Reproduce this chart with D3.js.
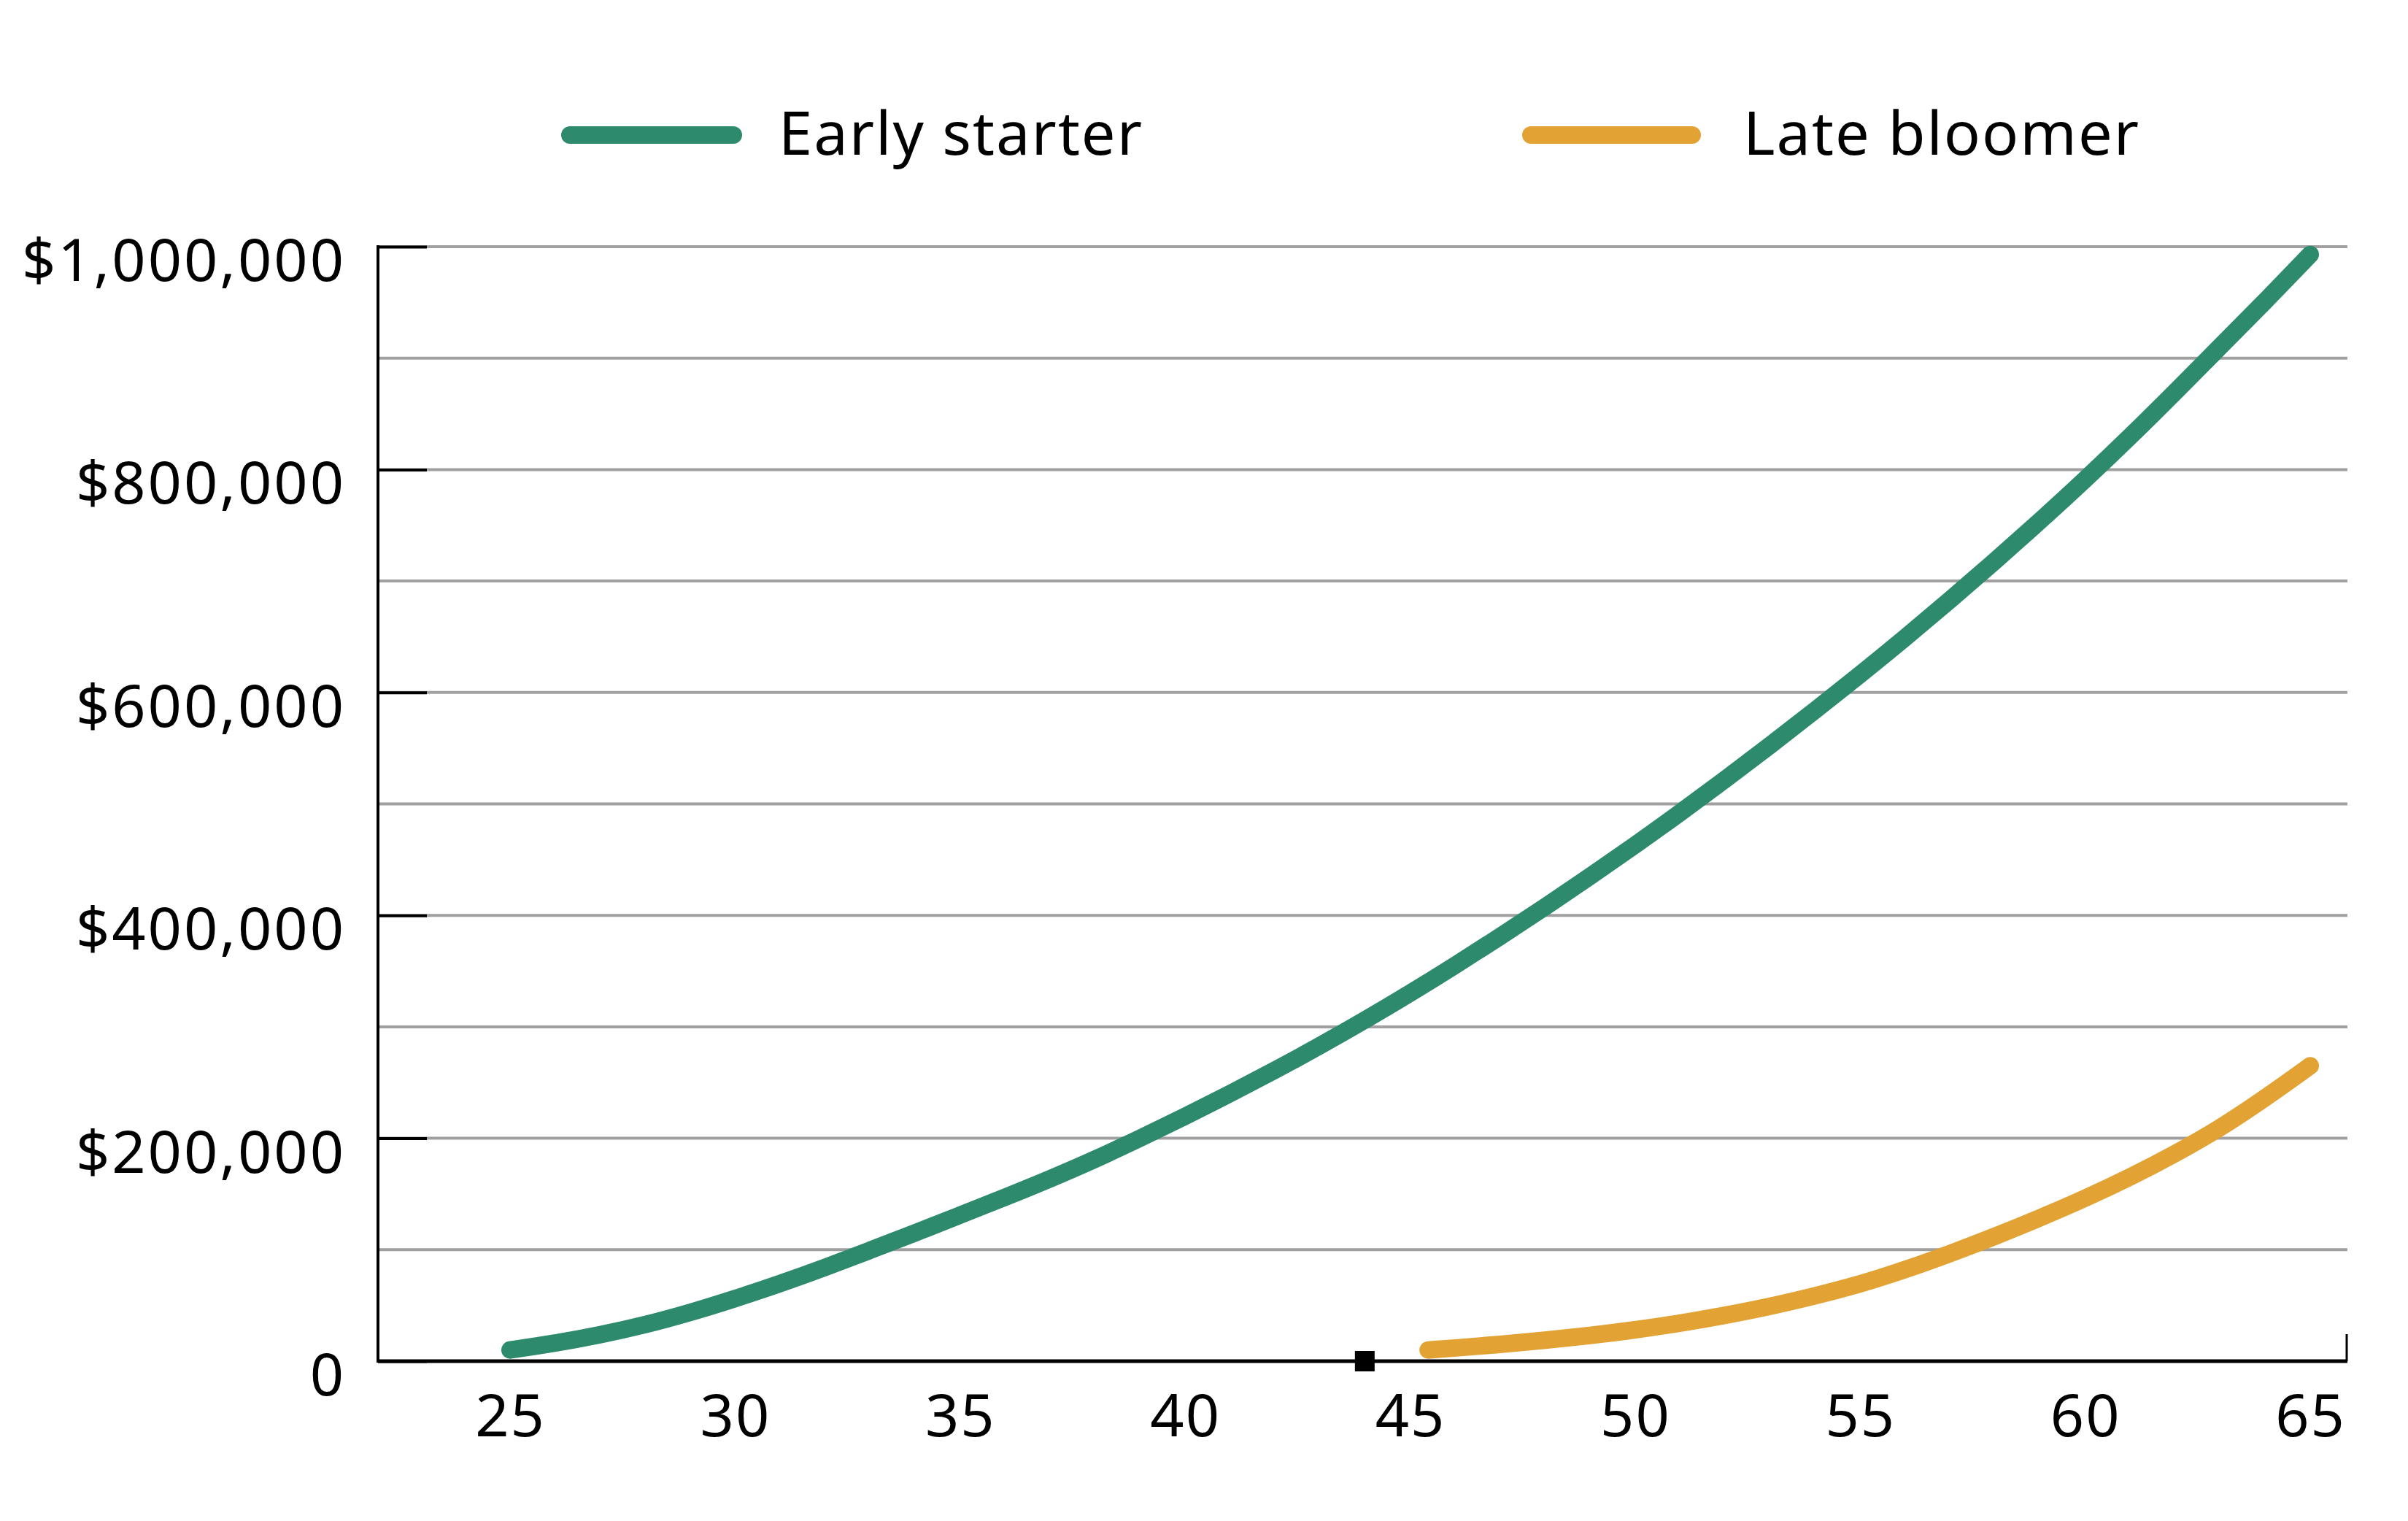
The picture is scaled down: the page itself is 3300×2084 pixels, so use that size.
<!DOCTYPE html>
<html>
<head>
<meta charset="utf-8">
<script src="https://cdn.jsdelivr.net/npm/d3@7"></script>
<style>
  html, body { margin: 0; padding: 0; background: #ffffff; }
  svg { display: block; }
  text { font-family: "Noto Sans", "DejaVu Sans", sans-serif; fill: #000; }
</style>
</head>
<body>
<svg id="chart" width="3300" height="2084"></svg>
<script>
// ---------- data ----------
const seriesNames = ["Early starter", "Late bloomer"];
const seriesColors = ["#2E8A6D", "#E2A234"];

const earlyAges = [25, 26, 27, 28, 29, 30, 31, 32, 33, 34, 35, 36, 37, 38, 39, 40, 41, 42, 43, 44, 45,
                   46, 47, 48, 49, 50, 51, 52, 53, 54, 55, 56, 57, 58, 59, 60, 61, 62, 63, 64, 65];
const earlyValues = [10000, 16000, 23500, 32500, 43500, 56000, 69500, 84000, 99500, 115000, 131000,
                     147000, 163500, 181000, 200000, 219500, 240000, 261000, 283000, 306000, 330000,
                     355000, 381000, 407500, 435000, 463000, 492000, 522000, 552500, 584000, 616000,
                     649000, 683000, 718000, 754000, 791000, 829500, 869500, 910500, 951000, 993000];

const lateAges = [45.4, 46, 47, 48, 49, 50, 51, 52, 53, 54, 55, 56, 57, 58, 59, 60, 61, 62, 63, 64, 65];
const lateValues = [10000, 11800, 15000, 18700, 23000, 28000, 34000, 41000, 49000, 58500, 69000,
                    82000, 96500, 112000, 128500, 146000, 165000, 186000, 209000, 236000, 265000];

const xTickValues = [25, 30, 35, 40, 45, 50, 55, 60, 65];
const yTickValues = [0, 200000, 400000, 600000, 800000, 1000000];
const yTickLabels = ["0", "$200,000", "$400,000", "$600,000", "$800,000", "$1,000,000"];
const yGridValues = [100000, 200000, 300000, 400000, 500000, 600000, 700000, 800000, 900000, 1000000];
const markerAge = [44];

// ---------- layout ----------
const plotLeft = 518, plotRight = 3217, plotTop = 338, plotBottom = 1865;
const svg = d3.select("#chart");
svg.append("rect").attr("width", 3300).attr("height", 2084).attr("fill", "#fff");

const x = d3.scaleLinear().domain([25, 65]).range([699, 3166]);
const y = d3.scaleLinear().domain([0, 1000000]).range([plotBottom, plotTop]);

// gridlines
svg.append("g").selectAll("line").data(yGridValues).join("line")
  .attr("x1", plotLeft).attr("x2", plotRight)
  .attr("y1", d => y(d)).attr("y2", d => y(d))
  .attr("stroke", "#A0A0A0").attr("stroke-width", 4);

// y axis (ticks inward, labels positioned separately)
const yAxis = d3.axisLeft(y).tickValues(yTickValues).tickSize(-67).tickFormat("");
const gy = svg.append("g").attr("transform", `translate(${plotLeft},0)`).call(yAxis);
gy.select(".domain").remove();
gy.selectAll(".tick line").attr("stroke", "#000").attr("stroke-width", 4);
svg.append("line").attr("x1", plotLeft).attr("x2", plotLeft)
  .attr("y1", plotTop - 2).attr("y2", plotBottom + 2)
  .attr("stroke", "#000").attr("stroke-width", 4);

svg.append("g").selectAll("text").data(yTickValues).join("text")
  .attr("x", 474).attr("y", d => y(d) + 47)
  .attr("text-anchor", "end").attr("font-size", 81)
  .attr("letter-spacing", 3)
  .text((d, i) => yTickLabels[i]);

// x axis
svg.append("line").attr("x1", plotLeft).attr("x2", plotRight)
  .attr("y1", plotBottom).attr("y2", plotBottom)
  .attr("stroke", "#000").attr("stroke-width", 5);
svg.append("line").attr("x1", plotRight - 1).attr("x2", plotRight - 1)
  .attr("y1", plotBottom).attr("y2", plotBottom - 37)
  .attr("stroke", "#000").attr("stroke-width", 3);

const xAxis = d3.axisBottom(x).tickValues(xTickValues).tickSize(0).tickFormat(d3.format("d"));
const gx = svg.append("g").attr("transform", `translate(0,${plotBottom})`).call(xAxis);
gx.select(".domain").remove();
gx.selectAll(".tick text")
  .attr("y", 103).attr("dy", 0)
  .attr("font-size", 81)
  .attr("letter-spacing", 2)
  .attr("font-family", "Noto Sans, DejaVu Sans, sans-serif")
  .attr("fill", "#000");

// marker square on the axis
svg.append("g").selectAll("rect").data(markerAge).join("rect")
  .attr("x", d => x(d) - 14).attr("y", y(0) - 14)
  .attr("width", 27).attr("height", 28).attr("fill", "#000");

// lines
const line = d3.line().x(d => x(d[0])).y(d => y(d[1])).curve(d3.curveBasis);
const series = [
  earlyAges.map((a, i) => [a, earlyValues[i]]),
  lateAges.map((a, i) => [a, lateValues[i]])
];
svg.append("g").selectAll("path").data(series).join("path")
  .attr("d", line)
  .attr("fill", "none")
  .attr("stroke", (d, i) => seriesColors[i])
  .attr("stroke-width", 24)
  .attr("stroke-linecap", "round")
  .attr("stroke-linejoin", "round");

// legend
const legendItems = [
  { x1: 781, x2: 1005, tx: 1067 },
  { x1: 2098, x2: 2319, tx: 2389 }
];
const lg = svg.append("g");
lg.selectAll("line").data(legendItems).join("line")
  .attr("x1", d => d.x1).attr("x2", d => d.x2)
  .attr("y1", 185).attr("y2", 185)
  .attr("stroke", (d, i) => seriesColors[i])
  .attr("stroke-width", 24).attr("stroke-linecap", "round");
lg.selectAll("text").data(legendItems).join("text")
  .attr("x", d => d.tx).attr("y", 212)
  .attr("font-size", 83)
  .attr("letter-spacing", 2)
  .text((d, i) => seriesNames[i]);
</script>
</body>
</html>
